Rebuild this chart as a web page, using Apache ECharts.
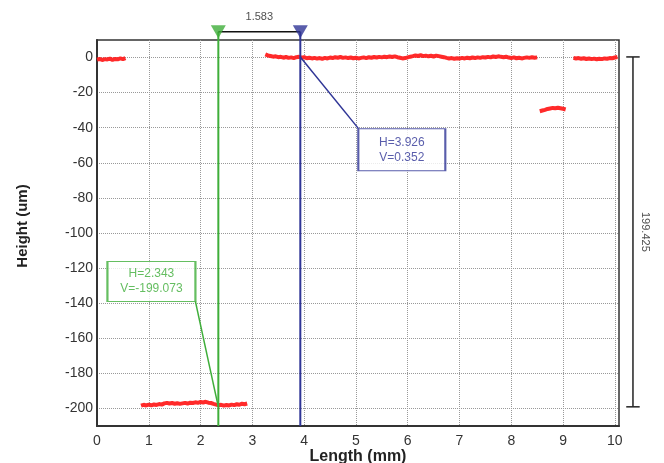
<!DOCTYPE html>
<html>
<head>
<meta charset="utf-8">
<script src="https://cdn.jsdelivr.net/npm/echarts@6/dist/echarts.min.js"></script>
<style>
  html, body { margin: 0; padding: 0; background: #fff; }
  #chart { width: 664px; height: 463px; }
</style>
</head>
<body>
<div id="chart"></div>
<script>
// profile trace, Length (mm) vs Height (um), sampled every 0.05 mm
var step = 0.05;

var seg1Start = 0.00;
var seg1Y = [-1.2, -0.8, -1.4, -0.9, -1.1, -0.6, -1.3, -0.8, -1.0, -0.5, -0.9, -0.3];

var seg2Start = 3.25;
var seg2Y = [
  1.8, 1.2, 0.9, 0.5, 0.7, 0.2, 0.4, -0.1, 0.3, -0.2,
  0.1, -0.3, 0.2, 0.4, -0.1, 0.2, -0.4, -0.1, -0.5, -0.2,
  -0.6, -0.3, -0.7, -0.2, -0.5, 0.0, -0.3, 0.2, -0.1, 0.3,
  -0.2, 0.1, -0.3, 0.0, -0.4, -0.1, -0.5, -0.2, 0.1, -0.3,
  0.2, -0.1, 0.3, 0.0, 0.4, 0.1, 0.5, 0.2, 0.6, 0.3,
  0.7, 0.2, -0.1, -0.5, -0.3, 0.1, 0.5, 0.8, 1.2, 0.9,
  1.3, 0.8, 1.1, 0.7, 1.0, 0.6, 1.1, 0.8, 0.5, 0.2,
  -0.2, -0.5, -0.3, -0.7, -0.4, -0.6, -0.2, -0.5, -0.1, -0.4,
  0.0, -0.3, 0.1, -0.2, 0.2, 0.0, 0.4, 0.1, 0.6, 0.3,
  0.7, 0.4, 0.2, 0.5, 0.0, -0.3, 0.1, -0.4, -0.1, -0.5,
  -0.2, 0.1, -0.2, 0.2, -0.1, 0.1
];

var seg3Start = 8.55;
var seg3Y = [-30.6, -30.2, -29.8, -29.3, -29.0, -28.7, -28.9, -28.6, -28.9, -29.2, -29.6];

var seg4Start = 9.20;
var seg4Y = [-0.2, -0.5, -0.3, -0.7, -0.4, -0.8, -0.5, -0.9, -0.6, -1.0, -0.7, -0.9, -0.5, -0.7, -0.3, -0.4, 0.0, 0.3];

var seg5Start = 0.85;
var seg5Y = [
  -198.4, -197.9, -198.3, -197.8, -198.2, -197.7, -198.0, -197.5, -197.8, -197.1,
  -196.8, -197.2, -196.9, -197.3, -197.0, -197.4, -197.1, -196.8, -197.2, -196.7,
  -196.9, -196.5, -196.8, -196.3, -196.6, -196.2, -196.7, -196.9, -197.4, -197.8,
  -198.2, -197.9, -198.4, -198.0, -198.3, -197.8, -198.1, -197.6, -197.9, -197.3,
  -197.6, -197.2
];

var xTicks = [0, 1, 2, 3, 4, 5, 6, 7, 8, 9, 10];
var yTicks = [0, -20, -40, -60, -80, -100, -120, -140, -160, -180, -200];

// cursors
var cursorA = { h: 2.343, v: -199.073 };
var cursorB = { h: 3.926, v: 0.352 };

// annotation anchors (data units)
var markerY = 14.7;
var boxB = { x: 5.886, y: -52.6, cornerX: 5.05, cornerY: -40.5 };
var boxA = { x: 1.051, y: -127.6, cornerX: 1.90, cornerY: -139.0 };
var dimX = 10.35, capL = 10.22, capR = 10.48, dimLabelX = 10.58;

var xMin = 0, xMax = 10.08, yMin = -210, yMax = 10;
var sideMax = 10.95; // strip right of the plot, same mm scale

var RED = '#ff1f1f', GREEN = '#3fae3a', BLUE = '#2f3596', DARK = '#333';
var FONT = '"Liberation Sans", Arial, sans-serif';

function segment(start, ys) {
  return ys.map(function (y, i) { return [+(start + i * step).toFixed(2), y]; });
}

function trace(data) {
  return {
    type: 'line', data: data, showSymbol: false, clip: false, silent: true,
    lineStyle: { color: RED, width: 4, opacity: 0.95 }
  };
}

function rule(data, color, width, side) {
  return {
    type: 'line', data: data, showSymbol: false, clip: false, silent: true, z: 4,
    xAxisIndex: side ? 1 : 0, yAxisIndex: side ? 1 : 0,
    lineStyle: { color: color, width: width }
  };
}

function note(x, y, text, color, size) {
  return {
    type: 'scatter', data: [[x, y]], clip: false, silent: true, z: 6,
    symbol: 'rect', symbolSize: size,
    itemStyle: { color: '#fff', borderColor: color, borderWidth: 1.5 },
    label: { show: true, position: 'inside', formatter: text, color: color,
      fontFamily: FONT, fontSize: 12, lineHeight: 15 }
  };
}

var chart = echarts.init(document.getElementById('chart'));

var option = {
  animation: false,
  backgroundColor: '#fff',
  grid: [
    {
      left: 97, right: 45, top: 40, bottom: 37, outerBoundsMode: 'none',
      show: true, borderColor: DARK, borderWidth: 1.5, backgroundColor: 'transparent'
    },
    { left: 619, right: 0, top: 40, bottom: 37, outerBoundsMode: 'none', show: false }
  ],
  xAxis: [
    {
      type: 'value', min: xMin, max: xMax,
      name: 'Length (mm)', nameLocation: 'middle', nameGap: 23, nameMoveOverlap: false,
      nameTextStyle: { fontFamily: FONT, fontSize: 16, fontWeight: 'bold', color: '#222' },
      axisLine: { onZero: false, lineStyle: { color: DARK, width: 2 } },
      axisTick: { show: false, customValues: xTicks },
      axisLabel: { customValues: xTicks, fontFamily: FONT, fontSize: 14, color: '#333', margin: 8 },
      splitLine: { show: true, lineStyle: { color: '#999', type: 'dotted', width: 1 } }
    },
    { type: 'value', gridIndex: 1, min: xMax, max: sideMax, show: false }
  ],
  yAxis: [
    {
      type: 'value', min: yMin, max: yMax,
      name: 'Height (um)', nameLocation: 'middle', nameGap: 67,
      nameTextStyle: { fontFamily: FONT, fontSize: 15, fontWeight: 'bold', color: '#222',
        padding: [0, 0, 0, 14] },
      axisLine: { onZero: false, lineStyle: { color: DARK, width: 2 } },
      axisTick: { show: false, customValues: yTicks },
      axisLabel: { customValues: yTicks, fontFamily: FONT, fontSize: 14, color: '#333', margin: 4 },
      splitLine: { show: true, lineStyle: { color: '#999', type: 'dotted', width: 1 } }
    },
    { type: 'value', gridIndex: 1, min: yMin, max: yMax, show: false }
  ],
  series: [
    trace(segment(seg1Start, seg1Y)),
    trace(segment(seg2Start, seg2Y)),
    trace(segment(seg3Start, seg3Y)),
    trace(segment(seg4Start, seg4Y)),
    trace(segment(seg5Start, seg5Y)),

    // cursor lines
    rule([[cursorA.h, yMin], [cursorA.h, markerY]], GREEN, 2),
    rule([[cursorB.h, yMin], [cursorB.h, markerY]], BLUE, 2),
    // distance between cursors
    rule([[cursorA.h, markerY], [cursorB.h, markerY]], '#111', 1.5),
    {
      type: 'scatter', clip: false, silent: true, z: 7,
      symbol: 'triangle', symbolRotate: 180, symbolSize: [15, 13],
      data: [
        { value: [cursorA.h, markerY], itemStyle: { color: GREEN } },
        { value: [cursorB.h, markerY], itemStyle: { color: BLUE } }
      ]
    },
    {
      type: 'scatter', clip: false, silent: true, symbolSize: 0,
      data: [[(cursorA.h + cursorB.h) / 2, markerY]],
      label: { show: true, position: 'top', distance: 9, color: '#222',
        fontFamily: FONT, fontSize: 11,
        formatter: function () { return (cursorB.h - cursorA.h).toFixed(3); } }
    },

    // callouts
    rule([[cursorB.h, cursorB.v], [boxB.cornerX, boxB.cornerY]], BLUE, 1.5),
    rule([[cursorA.h, cursorA.v], [boxA.cornerX, boxA.cornerY]], GREEN, 1.5),
    note(boxB.x, boxB.y, 'H=' + cursorB.h.toFixed(3) + '\nV=' + cursorB.v.toFixed(3), BLUE, [87, 42]),
    note(boxA.x, boxA.y, 'H=' + cursorA.h.toFixed(3) + '\nV=' + cursorA.v.toFixed(3), GREEN, [88, 40]),

    // height difference bar on the right
    rule([[dimX, cursorB.v], [dimX, cursorA.v]], '#222', 1.5, true),
    rule([[capL, cursorB.v], [capR, cursorB.v]], '#222', 1.5, true),
    rule([[capL, cursorA.v], [capR, cursorA.v]], '#222', 1.5, true),
    {
      type: 'scatter', xAxisIndex: 1, yAxisIndex: 1, clip: false, silent: true, symbolSize: 0,
      data: [[dimLabelX, (cursorA.v + cursorB.v) / 2]],
      label: { show: true, position: 'inside', rotate: -90, color: '#222',
        fontFamily: FONT, fontSize: 11,
        formatter: function () { return (cursorB.v - cursorA.v).toFixed(3); } }
    }
  ]
};

chart.setOption(option);
</script>
</body>
</html>
